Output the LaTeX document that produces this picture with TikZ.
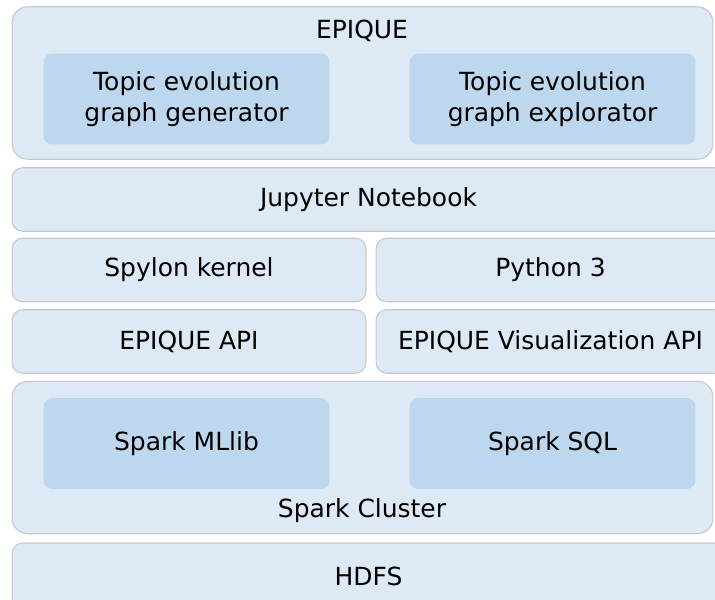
\documentclass[tikz,border=0pt]{standalone}
\usepackage{fontspec}
\setmainfont{DejaVu Sans}
\usepackage{tikz}
\usetikzlibrary{positioning}
\definecolor{layerblue}{RGB}{222,233,246}
\definecolor{moduleblue}{RGB}{189,215,238}
\definecolor{edgegrey}{RGB}{196,200,206}

\begin{document}
\begin{tikzpicture}[x=0.02cm, y=-0.02cm,
  layer/.style={draw=edgegrey, line width=0.6pt, rounded corners=6pt, fill=layerblue, minimum height=1.27cm, align=center, font=\fontsize{14.2}{17}\selectfont, inner sep=0pt},
  group/.style={layer, rounded corners=9pt, minimum width=14.02cm, minimum height=3.05cm},
  module/.style={draw=none, rounded corners=5pt, fill=moduleblue, minimum width=5.72cm, minimum height=1.82cm, align=center, font=\fontsize{14.2}{17.5}\selectfont, inner sep=0pt},
  caption/.style={font=\fontsize{14.2}{17}\selectfont, inner sep=0pt}]
  \useasboundingbox (0,0) rectangle (715,599);
  \clip (0,0) rectangle (715,599);
  % top layer with its two tools
  \node[group] (epique) at (362.5,83) {};
  \node[caption] (epiquetitle) at (362,31) {EPIQUE};
  \node[module] (generator) at (186.5,99) {Topic evolution\\graph generator};
  \node[module] (explorator) at (552.5,99) {Topic evolution\\graph explorator};
  % notebook, kernels and APIs
  \node[layer, minimum width=14.26cm] (jupyter) at (368.5,199.5) {Jupyter Notebook};
  \node[layer, minimum width=7.08cm] (spylon) at (189,270) {Spylon kernel};
  \node[layer, minimum width=6.98cm] (python) at (550.5,270) {Python 3};
  \node[layer, minimum width=7.08cm] (api) at (189,341.5) {EPIQUE API};
  \node[layer, minimum width=6.98cm] (visapi) at (550.5,341.5) {EPIQUE Visualization API};
  % spark cluster
  \node[group] (cluster) at (362.5,457.5) {};
  \node[module] (mllib) at (186.5,443.5) {Spark MLlib};
  \node[module] (sql) at (552.5,443.5) {Spark SQL};
  \node[caption] (clustertitle) at (362,511) {Spark Cluster};
  % storage
  \node[layer, minimum width=14.26cm, minimum height=1.34cm] (hdfs) at (368.5,576.5) {HDFS};
\end{tikzpicture}
\end{document}
